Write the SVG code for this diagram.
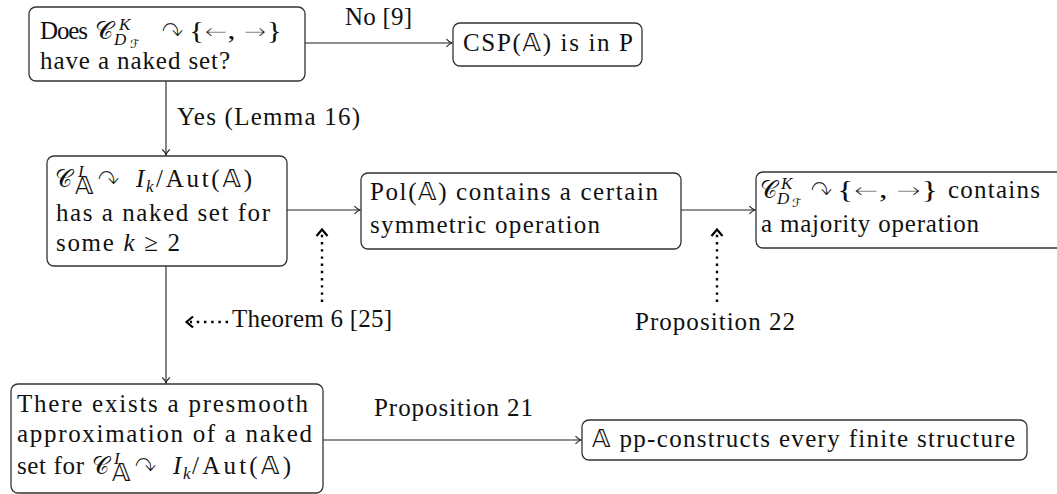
<svg xmlns="http://www.w3.org/2000/svg" width="1057" height="494" viewBox="0 0 1057 494">
<style>
.t { font-family: "Liberation Serif", "DejaVu Serif", serif; font-size: 25px; fill: #111; }
.i { font-style: italic; }
.s { font-size: 17px; }
.ss { font-size: 12px; }
.m { font-family: "DejaVu Sans", "DejaVu Serif", sans-serif; }
.ar { font-family: "DejaVu Sans", sans-serif; font-size: 22px; stroke: #fff; stroke-width: 0.9px; }
.arc { font-family: "DejaVu Sans", sans-serif; font-size: 31px; fill: #111; stroke: #fff; stroke-width: 1.3px; }
.box { fill: #fff; stroke: #333; stroke-width: 1.3; }
.edge { stroke: #222; stroke-width: 1.1; fill: none; marker-end: url(#tip); }
.dot { stroke: #000; stroke-width: 2.4; stroke-dasharray: 2.4 4.8; fill: none; }
.chev { stroke: #000; stroke-width: 2.2; fill: none; stroke-linejoin: miter; }
</style>
<defs>
<marker id="tip" viewBox="-7 -5 8 10" markerWidth="8" markerHeight="10" refX="0" refY="0" orient="auto" markerUnits="userSpaceOnUse">
<path d="M-5.5,-3.8 C-3.5,-1.5 -1.5,-0.4 0,0 C-1.5,0.4 -3.5,1.5 -5.5,3.8" fill="none" stroke="#222" stroke-width="1.1"/>
</marker>
</defs>
<rect width="1057" height="494" fill="#fff"/>

<g id="connectors">
<path class="edge" d="M305,43 L452,43"/>
<path class="edge" d="M166,81 L166,155"/>
<path class="edge" d="M287,210 L360,210"/>
<path class="edge" d="M681,210 L755,210"/>
<path class="edge" d="M166,266 L166,383"/>
<path class="edge" d="M323,440 L581,440"/>
<text class="t" x="345" y="25" textLength="67" lengthAdjust="spacing">No [9]</text>
<text class="t" x="177" y="125" textLength="183" lengthAdjust="spacing">Yes (Lemma 16)</text>
<text class="t" x="374" y="416" textLength="159" lengthAdjust="spacing">Proposition 21</text>
<g id="dotted">
<path class="dot" d="M322,302 L322,233"/>
<path class="chev" d="M316.5,236 L322,229.5 L327.5,236"/>
<path class="dot" d="M717,302 L717,233"/>
<path class="chev" d="M711.5,236 L717,229.5 L722.5,236"/>
<path class="dot" d="M228,322 L190,322"/>
<path class="chev" d="M193,316.5 L186.5,322 L193,327.5"/>
</g>
<text class="t" x="232" y="327" textLength="160" lengthAdjust="spacing">Theorem 6 [25]</text>
<text class="t" x="635" y="330" textLength="160" lengthAdjust="spacing">Proposition 22</text>
</g>

<g id="n1">
<rect class="box" x="29" y="7" width="276" height="74" rx="7"/>
<text class="t" x="40" y="39" textLength="48" lengthAdjust="spacing">Does</text>
<text class="t m" x="95" y="39" textLength="18" lengthAdjust="spacingAndGlyphs">𝒞</text>
<text class="t i s" x="119" y="30">K</text>
<text class="t i s" x="114" y="45">D</text>
<text class="t m ss" x="130" y="48">ℱ</text>
<text class="arc" x="161" y="43" textLength="23" lengthAdjust="spacingAndGlyphs">↷</text>
<text class="t" x="189" y="39" textLength="93" lengthAdjust="spacingAndGlyphs">{<tspan class="ar">←</tspan>, <tspan class="ar">→</tspan>}</text>
<text class="t" x="40" y="69" textLength="190" lengthAdjust="spacing">have a naked set?</text>
</g>

<g id="n2">
<rect class="box" x="453" y="23" width="189" height="43" rx="7"/>
<text class="t" x="463" y="51" textLength="170" lengthAdjust="spacing">CSP(<tspan class="m">𝔸</tspan>) is in P</text>
</g>

<g id="n3">
<rect class="box" x="47" y="156" width="240" height="110" rx="7"/>
<text class="t m" x="55" y="187" textLength="17" lengthAdjust="spacingAndGlyphs">𝒞</text>
<text class="t i s" x="78" y="177">I</text>
<text class="t m" x="75" y="194" font-size="13">𝔸</text>
<text class="arc" x="97" y="191" textLength="23" lengthAdjust="spacingAndGlyphs">↷</text>
<text class="t i" x="136" y="187">I</text>
<text class="t i s" x="146" y="192">k</text>
<text class="t" x="156" y="187" textLength="96" lengthAdjust="spacing">/Aut(<tspan class="m">𝔸</tspan>)</text>
<text class="t" x="56" y="221" textLength="214" lengthAdjust="spacing">has a naked set for</text>
<text class="t" x="56" y="251" textLength="124" lengthAdjust="spacing">some <tspan class="i">k</tspan> ≥ 2</text>
</g>

<g id="n4">
<rect class="box" x="361" y="173" width="320" height="76" rx="7"/>
<text class="t" x="370" y="200" textLength="288" lengthAdjust="spacing">Pol(<tspan class="m">𝔸</tspan>) contains a certain</text>
<text class="t" x="370" y="233" textLength="230" lengthAdjust="spacing">symmetric operation</text>
</g>

<g id="n5">
<rect class="box" x="756" y="172" width="320" height="76" rx="7"/>
<text class="t m" x="760" y="198" textLength="17" lengthAdjust="spacingAndGlyphs">𝒞</text>
<text class="t i s" x="781" y="189">K</text>
<text class="t i s" x="777" y="204">D</text>
<text class="t m ss" x="792" y="207">ℱ</text>
<text class="arc" x="810" y="202" textLength="23" lengthAdjust="spacingAndGlyphs">↷</text>
<text class="t" x="837" y="198" textLength="101" lengthAdjust="spacingAndGlyphs">{<tspan class="ar">←</tspan>, <tspan class="ar">→</tspan>}</text>
<text class="t" x="948" y="198" textLength="92" lengthAdjust="spacing">contains</text>
<text class="t" x="761" y="232" textLength="218" lengthAdjust="spacing">a majority operation</text>
</g>

<g id="n6">
<rect class="box" x="11" y="384" width="312" height="109" rx="7"/>
<text class="t" x="17" y="412" textLength="291" lengthAdjust="spacing">There exists a presmooth</text>
<text class="t" x="17" y="442" textLength="295" lengthAdjust="spacing">approximation of a naked</text>
<text class="t" x="17" y="474" textLength="67" lengthAdjust="spacing">set for</text>
<text class="t m" x="92" y="474" textLength="17" lengthAdjust="spacingAndGlyphs">𝒞</text>
<text class="t i s" x="114" y="464">I</text>
<text class="t m" x="112" y="481" font-size="13">𝔸</text>
<text class="arc" x="134" y="478" textLength="23" lengthAdjust="spacingAndGlyphs">↷</text>
<text class="t i" x="173" y="474">I</text>
<text class="t i s" x="183" y="479">k</text>
<text class="t" x="192" y="474" textLength="99" lengthAdjust="spacing">/Aut(<tspan class="m">𝔸</tspan>)</text>
</g>

<g id="n7">
<rect class="box" x="582" y="420" width="445" height="40" rx="7"/>
<text class="t" x="592" y="447" textLength="423" lengthAdjust="spacing"><tspan class="m">𝔸</tspan> pp-constructs every finite structure</text>
</g>
</svg>
